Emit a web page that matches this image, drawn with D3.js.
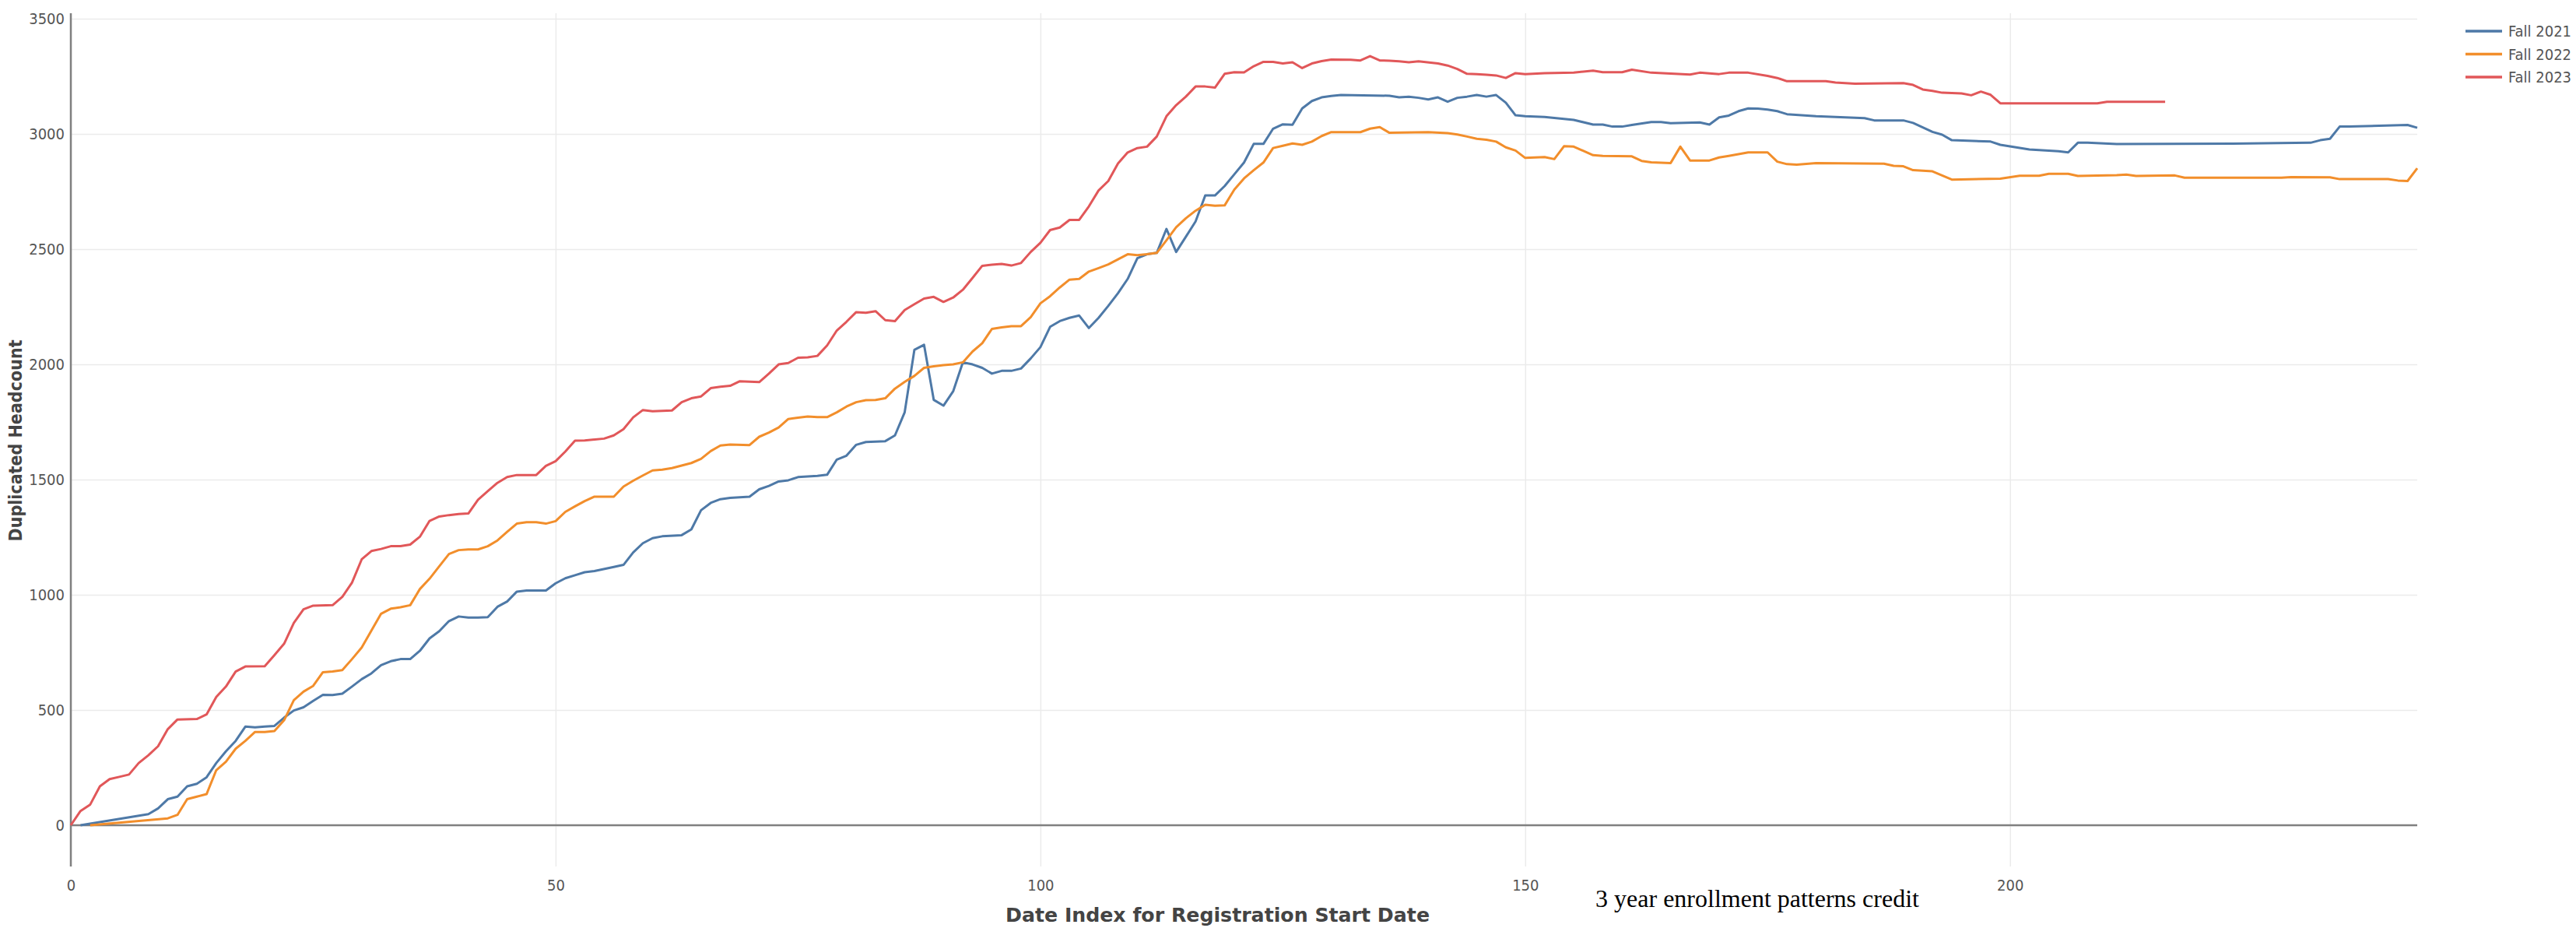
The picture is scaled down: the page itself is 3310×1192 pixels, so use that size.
<!DOCTYPE html>
<html>
<head>
<meta charset="utf-8">
<script src="https://cdnjs.cloudflare.com/ajax/libs/d3/7.8.5/d3.min.js"></script>
<style>
  body { margin: 0; background: #fff; }
  #viz svg { display: block; }
</style>
</head>
<body>
<div id="viz"></div>
<script>
//Datos: [indice de fecha, headcount]
var series = ['Fall 2021', 'Fall 2022', 'Fall 2023'];

var fall2021 = [[1,0],[8,48],[9,73],[10,113],[11,124],[12,169],[13,180],[14,208],[15,270],[16,321],[17,366],[18,428],[19,425],[20,428],[21,431],[22,467],[23,498],[24,512],[25,540],[26,566],[27,565],[28,571],[29,602],[30,634],[31,659],[32,695],[33,712],[34,721],[35,721],[36,757],[37,811],[38,842],[39,886],[40,906],[41,901],[42,901],[43,903],[44,948],[45,971],[46,1014],[47,1019],[48,1019],[49,1019],[50,1050],[51,1072],[52,1085],[53,1098],[54,1103],[56,1121],[57,1130],[58,1184],[59,1224],[60,1246],[61,1254],[63,1259],[64,1284],[65,1367],[66,1399],[67,1415],[68,1421],[70,1426],[71,1458],[72,1473],[73,1492],[74,1497],[75,1511],[77,1516],[78,1521],[79,1587],[80,1604],[81,1651],[82,1663],[84,1667],[85,1692],[86,1792],[87,2063],[88,2085],[89,1846],[90,1821],[91,1883],[92,2009],[93,2000],[94,1985],[95,1960],[96,1972],[97,1972],[98,1982],[99,2026],[100,2075],[101,2163],[102,2188],[103,2202],[104,2212],[105,2158],[106,2202],[107,2254],[108,2309],[109,2371],[110,2461],[111,2478],[112,2484],[113,2588],[114,2488],[115,2554],[116,2620],[117,2733],[118,2733],[119,2774],[120,2825],[121,2876],[122,2957],[123,2957],[124,3023],[125,3042],[126,3040],[127,3111],[128,3143],[129,3159],[130,3165],[131,3169],[136,3166],[137,3159],[138,3162],[139,3157],[140,3150],[141,3159],[142,3140],[143,3157],[144,3162],[145,3169],[146,3162],[147,3169],[148,3136],[149,3081],[150,3077],[152,3074],[155,3061],[157,3041],[158,3041],[159,3032],[160,3032],[161,3039],[163,3052],[164,3052],[165,3047],[168,3050],[169,3041],[170,3072],[171,3080],[172,3099],[173,3111],[174,3110],[175,3106],[176,3099],[177,3086],[180,3077],[185,3069],[186,3059],[189,3059],[190,3048],[191,3029],[192,3009],[193,2997],[194,2973],[198,2967],[199,2953],[202,2933],[205,2925],[206,2920],[207,2962],[208,2962],[211,2956],[223,2958],[231,2962],[232,2973],[233,2979],[234,3032],[235,3032],[241,3039],[242,3027]];

var fall2022 = [[2,0],[10,30],[11,45],[12,113],[13,124],[14,135],[15,239],[16,276],[17,332],[18,366],[19,405],[20,405],[21,409],[22,456],[23,543],[24,580],[25,605],[26,664],[27,667],[28,673],[29,721],[30,771],[31,845],[32,918],[33,940],[34,946],[35,955],[36,1025],[37,1070],[38,1124],[39,1177],[40,1194],[41,1197],[42,1197],[43,1211],[44,1236],[45,1273],[46,1309],[47,1315],[48,1315],[49,1309],[50,1320],[51,1360],[52,1384],[53,1407],[54,1426],[56,1426],[57,1470],[58,1495],[59,1518],[60,1540],[61,1543],[62,1550],[63,1561],[64,1572],[65,1590],[66,1624],[67,1648],[68,1652],[70,1650],[71,1686],[72,1704],[73,1726],[74,1763],[75,1769],[76,1774],[77,1771],[78,1771],[79,1792],[80,1817],[81,1836],[82,1845],[83,1846],[84,1853],[85,1895],[86,1924],[87,1950],[88,1985],[89,1992],[90,1997],[91,2000],[92,2009],[93,2056],[94,2092],[95,2154],[96,2161],[97,2166],[98,2166],[99,2205],[100,2265],[101,2296],[102,2334],[103,2368],[104,2371],[105,2403],[106,2418],[107,2434],[108,2456],[109,2478],[110,2474],[111,2478],[112,2484],[113,2539],[114,2595],[115,2634],[116,2667],[117,2693],[118,2689],[119,2690],[120,2759],[121,2807],[122,2843],[123,2876],[124,2939],[125,2949],[126,2959],[127,2953],[128,2967],[129,2991],[130,3008],[133,3008],[134,3023],[135,3030],[136,3005],[140,3008],[142,3004],[143,2998],[144,2989],[145,2979],[146,2975],[147,2967],[148,2942],[149,2928],[150,2896],[152,2900],[153,2891],[154,2947],[155,2945],[157,2908],[158,2905],[161,2903],[162,2883],[163,2877],[165,2874],[166,2945],[167,2885],[169,2885],[170,2898],[171,2905],[173,2920],[175,2920],[176,2880],[177,2869],[178,2867],[180,2874],[187,2871],[188,2862],[189,2860],[190,2843],[192,2838],[194,2802],[199,2806],[201,2819],[203,2819],[204,2827],[206,2827],[207,2818],[211,2821],[212,2824],[213,2818],[217,2820],[218,2810],[228,2810],[229,2813],[233,2812],[234,2804],[239,2804],[240,2798],[241,2796],[242,2851]];

var fall2023 = [[0,0],[1,62],[2,90],[3,169],[4,200],[5,210],[6,220],[7,270],[8,304],[9,343],[10,417],[11,459],[13,461],[14,481],[15,557],[16,602],[17,667],[18,689],[20,690],[21,738],[22,788],[23,878],[24,937],[25,953],[27,955],[28,991],[29,1053],[30,1154],[31,1190],[32,1199],[33,1211],[34,1211],[35,1218],[36,1252],[37,1321],[38,1340],[39,1346],[40,1351],[41,1353],[42,1413],[43,1450],[44,1486],[45,1511],[46,1520],[48,1520],[49,1560],[50,1580],[51,1622],[52,1669],[53,1670],[55,1678],[56,1692],[57,1719],[58,1770],[59,1802],[60,1797],[62,1800],[63,1836],[64,1853],[65,1861],[66,1897],[67,1903],[68,1907],[69,1927],[71,1923],[72,1960],[73,2000],[74,2006],[75,2029],[76,2031],[77,2037],[78,2082],[79,2147],[80,2185],[81,2227],[82,2224],[83,2231],[84,2192],[85,2188],[86,2236],[87,2261],[88,2286],[89,2293],[90,2271],[91,2290],[92,2324],[93,2375],[94,2428],[95,2433],[96,2436],[97,2429],[98,2440],[99,2488],[100,2528],[101,2583],[102,2594],[103,2627],[104,2627],[105,2686],[106,2755],[107,2796],[108,2872],[109,2920],[110,2939],[111,2945],[112,2989],[113,3077],[114,3125],[115,3162],[116,3206],[117,3206],[118,3201],[119,3261],[120,3268],[121,3267],[122,3294],[123,3313],[124,3313],[125,3306],[126,3311],[127,3286],[128,3306],[129,3316],[130,3323],[132,3322],[133,3319],[134,3338],[135,3319],[136,3318],[137,3315],[138,3311],[139,3315],[141,3306],[142,3297],[143,3282],[144,3261],[145,3260],[146,3257],[147,3254],[148,3243],[149,3264],[150,3260],[152,3264],[155,3266],[157,3275],[158,3268],[160,3268],[161,3279],[163,3266],[167,3258],[168,3266],[170,3260],[171,3266],[173,3266],[175,3252],[176,3243],[177,3229],[181,3229],[182,3223],[184,3218],[189,3221],[190,3213],[191,3193],[192,3187],[193,3179],[194,3178],[195,3176],[196,3168],[197,3184],[198,3170],[199,3133],[209,3133],[210,3140],[216,3140]];

var xTicks = [0, 50, 100, 150, 200];
var yTicks = [0, 500, 1000, 1500, 2000, 2500, 3000, 3500];
var tituloX = 'Date Index for Registration Start Date';
var tituloY = 'Duplicated Headcount';
var leyenda = '3 year enrollment patterns credit';

//Objeto singleton que dibuja todo
var Grafico = new function(){
  /*
   * Configuracion
   */
  this.width = 3310;
  this.height = 1192;
  this.izq = 91;     //borde izquierdo del area de datos
  this.der = 3106;   //borde derecho
  this.arriba = 17;  //borde superior
  this.abajo = 1113; //borde inferior
  this.colores = ['#4e79a7', '#f28e2b', '#e15759'];
  this.fuente = '"DejaVu Sans Condensed", "DejaVu Sans", sans-serif';

  this.svg = d3.select('#viz')
    .append('svg')
    .attr('width', this.width)
    .attr('height', this.height)
    .style('background', '#fff');

  this.x = d3.scaleLinear().domain([0, 242]).range([this.izq, this.der]);
  this.y = d3.scaleLinear().domain([-179, 3524]).range([this.abajo, this.arriba]);

  this.gGrilla = this.svg.append('g');
  this.gEjes = this.svg.append('g');
  this.gLineas = this.svg.append('g');
  this.gTextos = this.svg.append('g');

  /*
   * Grilla y etiquetas de los ejes
   */
  this.renderEjes = function(){
    var G = Grafico;

    var ejeY = d3.axisLeft(G.y)
      .tickValues(yTicks)
      .tickFormat(d3.format('d'))
      .tickSize(-(G.der - G.izq))
      .tickPadding(8);
    G.gGrilla.append('g')
      .attr('transform', 'translate(' + G.izq + ',0)')
      .call(ejeY);

    var ejeX = d3.axisBottom(G.x)
      .tickValues(xTicks)
      .tickFormat(d3.format('d'))
      .tickSize(-(G.abajo - G.arriba))
      .tickPadding(17);
    G.gGrilla.append('g')
      .attr('transform', 'translate(0,' + G.abajo + ')')
      .call(ejeX);

    G.gGrilla.selectAll('.domain').remove();
    G.gGrilla.selectAll('.tick line')
      .attr('stroke', '#ebebeb')
      .attr('stroke-width', 1.5);
    G.gGrilla.selectAll('.tick text')
      .attr('fill', '#555')
      .style('font-family', G.fuente)
      .style('font-stretch', 'condensed')
      .style('font-size', '20px');

    //Linea del cero y eje vertical
    G.gEjes.append('line')
      .attr('x1', G.izq).attr('x2', G.der)
      .attr('y1', G.y(0)).attr('y2', G.y(0))
      .attr('stroke', '#808080')
      .attr('stroke-width', 2.5);
    G.gEjes.append('line')
      .attr('x1', G.izq).attr('x2', G.izq)
      .attr('y1', G.arriba).attr('y2', G.abajo)
      .attr('stroke', '#808080')
      .attr('stroke-width', 2.5);
  } //Fin renderEjes

  /*
   * Las tres lineas
   */
  this.renderLineas = function(){
    var G = Grafico;
    var linea = d3.line()
      .x(function(d){ return G.x(d[0]); })
      .y(function(d){ return G.y(d[1]); });
    var datos = [fall2021, fall2022, fall2023];

    for (var i = 0; i < datos.length; i++) {
      G.gLineas.append('path')
        .datum(datos[i])
        .attr('d', linea)
        .attr('fill', 'none')
        .attr('stroke', G.colores[i])
        .attr('stroke-width', 3)
        .attr('stroke-linejoin', 'round');
    };
  } //Fin renderLineas

  /*
   * Titulos, leyenda y texto al pie
   */
  this.renderTextos = function(){
    var G = Grafico;

    G.gTextos.append('text')
      .attr('transform', 'translate(28,566) rotate(-90)')
      .attr('text-anchor', 'middle')
      .attr('fill', '#444')
      .style('font-family', G.fuente)
      .style('font-stretch', 'condensed')
      .style('font-weight', 'bold')
      .style('font-size', '23px')
      .text(tituloY);

    //Titulo X: ocupa de x=1292 a x=1837
    G.gTextos.append('text')
      .attr('x', 1292)
      .attr('y', 1184)
      .attr('textLength', 545)
      .attr('lengthAdjust', 'spacingAndGlyphs')
      .attr('fill', '#444')
      .style('font-family', G.fuente)
      .style('font-stretch', 'condensed')
      .style('font-weight', 'bold')
      .style('font-size', '24px')
      .text(tituloX);

    G.gTextos.append('text')
      .attr('x', 2258)
      .attr('y', 1165)
      .attr('text-anchor', 'middle')
      .attr('fill', '#000')
      .style('font-family', '"Liberation Serif", serif')
      .style('font-size', '32px')
      .text(leyenda);

    //Leyenda de series, pegada al borde derecho
    for (var i = 0; i < series.length; i++) {
      var yy = 40 + i * 29.5;
      G.gTextos.append('line')
        .attr('x1', 3168).attr('x2', 3215)
        .attr('y1', yy).attr('y2', yy)
        .attr('stroke', G.colores[i])
        .attr('stroke-width', 3.5);
      G.gTextos.append('text')
        .attr('x', 3223)
        .attr('y', yy)
        .attr('dy', '0.36em')
        .attr('fill', '#555')
        .style('font-family', G.fuente)
        .style('font-stretch', 'condensed')
        .style('font-size', '20px')
        .text(series[i]);
    };
  } //Fin renderTextos
}

//Dibujo (una vez que el objeto ya existe)
Grafico.renderEjes();
Grafico.renderLineas();
Grafico.renderTextos();
</script>
</body>
</html>
